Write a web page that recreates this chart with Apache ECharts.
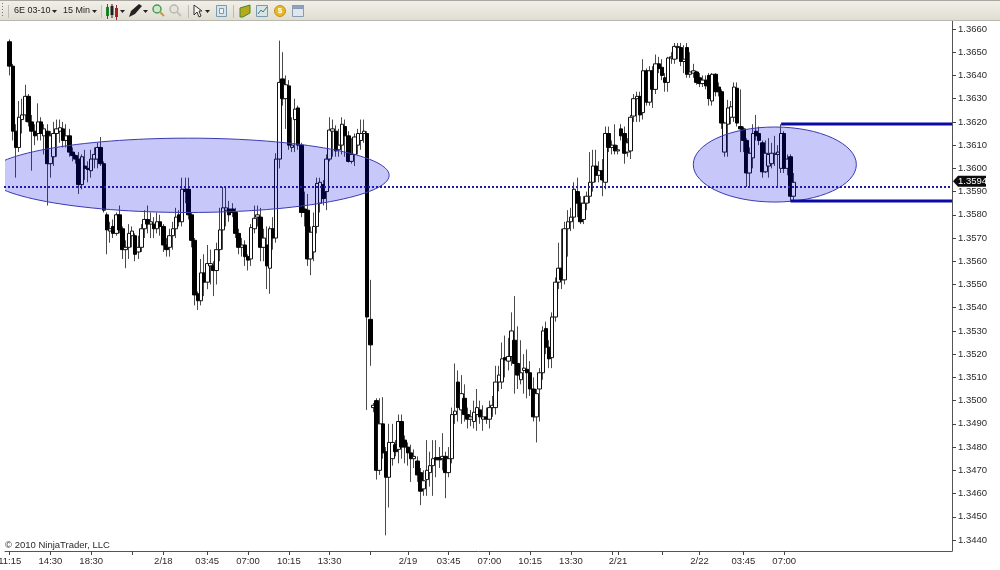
<!DOCTYPE html>
<html><head><meta charset="utf-8">
<style>html,body{margin:0;padding:0;background:#fff}#c{width:1000px;height:570px}</style>
<script src="https://cdn.jsdelivr.net/npm/echarts@6/dist/echarts.min.js"></script>
</head><body><div id="c"></div>
<script>
const opens = [1.36545,1.3644,1.3616,1.3609,1.3621,1.3623,1.3631,1.3620,1.3616,1.3615,
1.3620,1.3614,1.3616,1.3602,1.3605,1.3615,1.3616,1.3617,1.3612,1.3614,
1.3607,1.36055,1.3604,1.3593,1.3601,1.3600,1.3599,1.3604,1.3604,1.3609,
1.3602,1.3580,1.3573,1.3575,1.3572,1.3580,1.3574,1.3565,1.3566,1.3571,
1.3571,1.3564,1.3566,1.3574,1.3578,1.3576,1.3576,1.3574,1.3577,1.3575,
1.3567,1.3566,1.3571,1.3574,1.3580,1.3577,1.3591,1.3591,1.3580,1.3569,
1.3546,1.3543,1.3555,1.3551,1.3558,1.3558,1.3556,1.3565,1.35735,1.3582,
1.35825,1.35825,1.3581,1.3572,1.3566,1.3567,1.3562,1.3561,1.3574,1.3579,
1.3579,1.3566,1.3567,1.3557,1.3574,1.3570,1.3604,1.36385,1.3630,1.36355,
1.3609,1.3621,1.3626,1.3610,1.35825,1.3582,1.3561,1.3564,1.3575,1.3585,
1.3593,1.3590,1.3604,1.3616,1.3616,1.3608,1.3610,1.3618,1.3614,1.3603,
1.3606,1.3610,1.3612,1.3615,1.3615,1.3535,1.3497,1.3500,1.3470,1.3490,
1.3478,1.3467,1.3475,1.3481,1.3479,1.3491,1.3483,1.3480,1.34775,1.3475,
1.3474,1.3469,1.3462,1.3466,1.3469,1.3472,1.34755,1.34755,1.3475,1.3476,
1.3469,1.3475,1.3494,1.3508,1.3496,1.3501,1.3494,1.3492,1.3491,1.3494,
1.3496,1.3492,1.3493,1.3492,1.3497,1.3497,1.3508,1.3508,1.35185,1.3517,
1.3519,1.3526,1.3516,1.3509,1.3513,1.35135,1.3512,1.3505,1.3493,1.3505,
1.3512,1.3531,1.3523,1.35185,1.3536,1.3551,1.3557,1.3552,1.3574,1.3577,
1.3579,1.3590,1.3585,1.3578,1.3585,1.3588,1.3594,1.3601,1.3597,1.3599,
1.3594,1.3615,1.3609,1.3610,1.36075,1.3617,1.3615,1.3607,1.36075,1.36225,
1.3630,1.3631,1.3624,1.3642,1.36285,1.3642,1.3634,1.3645,1.36435,1.3639,
1.3637,1.36475,1.3647,1.3652,1.3652,1.3646,1.3652,1.36405,1.3641,1.36415,
1.3639,1.36365,1.3638,1.3640,1.3629,1.36405,1.3635,1.3633,1.3607,1.3619,
1.3622,1.3622,1.36345,1.3618,1.3617,1.3612,1.3598,1.36045,1.3616,1.3615,
1.3611,1.35985,1.3601,1.3602,1.3606,1.3606,1.3600,1.3615,1.3600,1.3605,
1.3588];
const closes = [1.3644,1.3616,1.3609,1.3622,1.3623,1.3631,1.3620,1.3616,1.3614,1.3620,
1.3615,1.3617,1.3602,1.3614,1.3615,1.3617,1.36175,1.3612,1.3614,1.3607,
1.36055,1.3604,1.3593,1.3605,1.3600,1.35995,1.3604,1.3606,1.3609,1.3602,
1.3582,1.35735,1.3574,1.3572,1.3580,1.35735,1.3565,1.3566,1.3572,1.3573,
1.3563,1.3566,1.3574,1.3578,1.3576,1.3577,1.3574,1.3577,1.3575,1.3567,
1.3565,1.3571,1.3574,1.3579,1.3577,1.3591,1.3590,1.3580,1.3569,1.35455,
1.3543,1.3555,1.3551,1.3559,1.3559,1.3556,1.3565,1.35735,1.3583,1.3583,
1.3580,1.3581,1.3572,1.3566,1.3567,1.3562,1.35605,1.35745,1.35785,1.3580,
1.3566,1.3570,1.3558,1.3574,1.3570,1.3604,1.3637,1.3630,1.3636,1.3610,
1.3610,1.36255,1.3610,1.3581,1.3581,1.3561,1.35725,1.3575,1.35935,1.3594,
1.3587,1.3604,1.36165,1.3617,1.36075,1.3610,1.3619,1.3614,1.3603,1.3606,
1.36135,1.3615,1.3615,1.3616,1.3536,1.3524,1.3498,1.3470,1.3490,1.34775,
1.3467,1.3482,1.3482,1.3478,1.3491,1.3480,1.3480,1.34775,1.3475,1.3476,
1.3468,1.3461,1.34655,1.3470,1.3472,1.3475,1.34745,1.34745,1.3476,1.3469,
1.3475,1.3494,1.34955,1.3497,1.3503,1.3494,1.3492,1.3493,1.3495,1.3497,
1.3493,1.3493,1.3492,1.3497,1.3498,1.3508,1.3511,1.3518,1.35175,1.3519,
1.3530,1.3516,1.3511,1.3512,1.3514,1.3512,1.3505,1.3493,1.3503,1.3512,
1.3530,1.3523,1.3518,1.3536,1.3551,1.3557,1.3552,1.3574,1.3577,1.3579,
1.3591,1.3585,1.3577,1.3585,1.3588,1.3594,1.3601,1.3597,1.3599,1.3595,
1.3615,1.3609,1.3610,1.36075,1.3608,1.3614,1.36065,1.3611,1.3622,1.3630,
1.3631,1.3623,1.3642,1.36285,1.3642,1.3634,1.3645,1.3643,1.3640,1.3637,
1.36475,1.3648,1.36525,1.36525,1.3646,1.3647,1.36405,1.36415,1.3642,1.3637,
1.36365,1.3638,1.36355,1.3630,1.36405,1.3633,1.3633,1.36195,1.36195,1.3626,
1.36265,1.3635,1.36195,1.3617,1.3612,1.3598,1.36065,1.3615,1.3614,1.3612,
1.35985,1.36065,1.3606,1.36065,1.36065,1.3607,1.3615,1.3600,1.3604,1.3588,
1.3594];
const lows = [1.3640,1.3612,1.3596,1.3607,1.3615,1.3620,1.3618,1.3599,1.3610,1.3612,
1.3612,1.3606,1.3584,1.3596,1.3601,1.3605,1.3611,1.3609,1.3609,1.3605,
1.3603,1.3602,1.3589,1.3591,1.3595,1.3594,1.3596,1.3600,1.3600,1.3601,
1.3581,1.3563,1.3568,1.3570,1.3571,1.3572,1.3561,1.3557,1.3561,1.3566,
1.3560,1.3561,1.3564,1.3570,1.3572,1.3570,1.3570,1.3572,1.3571,1.3564,
1.3562,1.3562,1.3565,1.3570,1.3575,1.3575,1.3585,1.3578,1.3566,1.3541,
1.3539,1.3541,1.3545,1.3548,1.3550,1.3545,1.3550,1.3560,1.3565,1.3575,
1.3577,1.3579,1.3570,1.3563,1.3562,1.3558,1.3556,1.3558,1.3572,1.3575,
1.3560,1.3560,1.3548,1.3546,1.3565,1.3568,1.3600,1.3627,1.3617,1.3608,
1.3607,1.3607,1.3608,1.3579,1.3575,1.3558,1.3554,1.3560,1.3572,1.3581,
1.3584,1.3582,1.3603,1.3605,1.3605,1.3605,1.3606,1.3605,1.36025,1.3602,
1.3601,1.3606,1.3608,1.3611,1.3496,1.3515,1.3495,1.3466,1.3468,1.3475,
1.3442,1.3454,1.3472,1.3476,1.3473,1.3475,1.3473,1.3472,1.3465,1.3471,
1.3465,1.3455,1.3459,1.3459,1.3463,1.3459,1.3467,1.3471,1.3470,1.3458,
1.3467,1.3473,1.3490,1.3491,1.3490,1.3491,1.3488,1.3489,1.3488,1.3487,
1.3490,1.3487,1.3490,1.3488,1.3493,1.3494,1.3504,1.3505,1.3510,1.3513,
1.3515,1.3503,1.3505,1.3507,1.3503,1.3501,1.3502,1.3491,1.3482,1.3491,
1.3509,1.3520,1.3514,1.3514,1.3534,1.3548,1.3548,1.3550,1.3562,1.3573,
1.3574,1.3579,1.3576,1.3576,1.3582,1.3585,1.3590,1.3594,1.3594,1.3588,
1.3591,1.3607,1.3606,1.3606,1.3606,1.3612,1.3602,1.3605,1.3604,1.3620,
1.3620,1.3620,1.3621,1.3627,1.3627,1.3626,1.3632,1.3641,1.3638,1.3633,
1.3633,1.3645,1.3645,1.3647,1.3644,1.3641,1.3639,1.3639,1.3639,1.3636,
1.3635,1.3635,1.3634,1.3627,1.3627,1.3631,1.3631,1.3617,1.3605,1.3605,
1.3619,1.3620,1.3618,1.3607,1.3607,1.3592,1.3592,1.3600,1.3612,1.3610,
1.3596,1.3598,1.3596,1.3600,1.3601,1.3592,1.3598,1.3598,1.3597,1.3586,
1.3586];
const highs = [1.36555,1.3645,1.3619,1.3629,1.3630,1.3636,1.3632,1.3623,1.3619,1.3628,
1.3622,1.3619,1.3619,1.3616,1.3620,1.3621,1.3621,1.3620,1.3619,1.3617,
1.3609,1.3606,1.3607,1.3606,1.3608,1.3603,1.3608,1.3609,1.3611,1.36135,
1.3603,1.3581,1.3577,1.3578,1.3581,1.3584,1.3575,1.3569,1.3576,1.3575,
1.3572,1.3571,1.3576,1.3582,1.3584,1.3581,1.3579,1.3581,1.3580,1.3576,
1.3570,1.3574,1.3577,1.3583,1.3582,1.3596,1.3596,1.3596,1.3581,1.3570,
1.3547,1.3561,1.3563,1.3567,1.3565,1.3560,1.3568,1.3583,1.3592,1.3592,
1.3586,1.3585,1.3583,1.3574,1.3570,1.3569,1.3563,1.3576,1.3584,1.3584,
1.3583,1.3574,1.3575,1.3575,1.3579,1.36065,1.3655,1.3650,1.3640,1.3638,
1.3622,1.3630,1.3627,1.3611,1.3590,1.3589,1.3575,1.3581,1.3596,1.3596,
1.3595,1.3606,1.3622,1.3621,1.36185,1.3617,1.3622,1.3621,1.3616,1.3613,
1.3615,1.3617,1.3621,1.3621,1.3616,1.3552,1.3499,1.3501,1.3501,1.35015,
1.3480,1.3490,1.3490,1.3483,1.3494,1.3494,1.3485,1.3482,1.3481,1.3479,
1.3476,1.3471,1.3470,1.3483,1.3478,1.3483,1.3483,1.3480,1.3486,1.3478,
1.3480,1.3497,1.3516,1.3513,1.3511,1.3507,1.3497,1.3496,1.3500,1.3505,
1.3500,1.3498,1.3497,1.3500,1.3502,1.3515,1.3515,1.3525,1.3528,1.3527,
1.3538,1.3545,1.3532,1.3526,1.3520,1.3522,1.3517,1.3510,1.3505,1.3514,
1.3532,1.3534,1.3526,1.3538,1.3553,1.3568,1.3574,1.3577,1.3582,1.3583,
1.3594,1.3596,1.3588,1.3588,1.3590,1.3607,1.3608,1.3608,1.3603,1.3604,
1.3618,1.3618,1.3612,1.3619,1.3610,1.3619,1.3618,1.3613,1.3623,1.3632,
1.3633,1.3633,1.3647,1.3643,1.3644,1.3644,1.3649,1.3648,1.3647,1.3641,
1.3648,1.3650,1.3654,1.3654,1.3654,1.3653,1.3654,1.3650,1.3645,1.3642,
1.3641,1.3640,1.3640,1.3641,1.3641,1.3641,1.3637,1.3634,1.3620,1.36295,
1.3629,1.3637,1.3637,1.3634,1.3618,1.3613,1.3609,1.3619,1.3623,1.3618,
1.3612,1.3612,1.3613,1.3611,1.3614,1.3610,1.3619,1.3616,1.3606,1.3606,
1.3598];
/* category slots: index 0 is empty, first candle sits on slot 1 */
const slotCount = 302;
const tickSlots  = [1,14,27,40,50,64,77,90,103,116,128,141,154,167,180,193,195,209,221,235,248];
const tickLabels = ['11:15','14:30','18:30','','2/18','03:45','07:00','10:15','13:30','','2/19','03:45','07:00','10:15','13:30','','2/21','','2/22','03:45','07:00'];
const yTickValues = [1.3440,1.3450,1.3460,1.3470,1.3480,1.3490,1.3500,1.3510,1.3520,1.3530,1.3540,1.3550,1.3560,1.3570,1.3580,1.3590,1.3600,1.3610,1.3620,1.3630,1.3640,1.3650,1.3660];
/* center slot, right-edge slot, top price, bottom price */
const ellipseA = [58,122,1.3613,1.3581];
const ellipseB = [245,271,1.36178,1.35855];
const levelHigh = [247,1.3619];
const levelLow  = [250,1.3586];
const dottedLevel = 1.3592;
const lastPrice = 1.3594;
const yMin = 1.343526, yMax = 1.366344;

const categories = [];
for (let i = 0; i < slotCount; i++) categories.push('t' + i);
const labelBySlot = {};
tickSlots.forEach((s, i) => { labelBySlot[s] = tickLabels[i]; });
const isTick = (i) => Object.prototype.hasOwnProperty.call(labelBySlot, i);
const blank = [['-','-','-','-']];
const wickData = blank.concat(opens.map((o, i) => [o, closes[i], lows[i], highs[i]]));
const bodyData = blank.concat(opens.map((o, i) => [o, closes[i], Math.min(o, closes[i]), Math.max(o, closes[i])]));

const FONT = '"Liberation Sans", Arial, sans-serif';
const chart = echarts.init(document.getElementById('c'), null, {renderer: 'canvas'});

function ellipseItem(params, api) {
  const c = api.coord([api.value(0), (api.value(2) + api.value(3)) / 2]);
  const r = api.coord([api.value(1), api.value(2)]);
  return {type: 'ellipse', shape: {cx: c[0], cy: c[1], rx: r[0] - c[0], ry: c[1] - r[1]},
    style: {fill: 'rgba(0,0,232,0.22)', stroke: '#3a3ab4', lineWidth: 1}};
}
function levelItem(params, api) {
  const p = api.coord([api.value(0), api.value(1)]);
  const right = params.coordSys.x + params.coordSys.width;
  return {type: 'line', shape: {x1: p[0], y1: Math.round(p[1]), x2: right, y2: Math.round(p[1])},
    style: {stroke: '#0a0aa8', lineWidth: 3}};
}
function dottedItem(params, api) {
  const y = Math.round(api.coord([0, api.value(1)])[1]);
  const cs = params.coordSys;
  return {type: 'line', shape: {x1: cs.x - 1, y1: y, x2: cs.x + cs.width, y2: y},
    style: {stroke: '#1c1ca8', lineWidth: 2, lineDash: [2, 2]}};
}
function tagItem(params, api) {
  const y = api.coord([0, api.value(1)])[1] - 1;
  const x = params.coordSys.x + params.coordSys.width;
  return {type: 'group', children: [
    {type: 'polygon', shape: {points: [[x + 1, y], [x + 6, y - 5.5], [x + 34, y - 5.5], [x + 34, y + 5.5], [x + 6, y + 5.5]]},
      style: {fill: '#0c0c0c'}},
    {type: 'text', style: {text: lastPrice.toFixed(4), x: x + 6, y: y, fill: '#fff',
      font: '9.5px ' + FONT, textAlign: 'left', textVerticalAlign: 'middle'}}
  ]};
}

/* toolbar */
const tb = [];
tb.push({type: 'rect', shape: {x: 0, y: 0, width: 1000, height: 21}, style: {
  fill: new echarts.graphic.LinearGradient(0, 0, 0, 1, [{offset: 0, color: '#f2f0e8'}, {offset: 1, color: '#dfddd2'}])}});
tb.push({type: 'rect', shape: {x: 0, y: 0, width: 1000, height: 1}, style: {fill: '#a8a8a0'}});
tb.push({type: 'rect', shape: {x: 0, y: 20, width: 1000, height: 1}, style: {fill: '#b9b8ae'}});
const tbText = (t, x) => tb.push({type: 'text', style: {text: t, x: x, y: 11, font: '9px ' + FONT, fill: '#222', textVerticalAlign: 'middle'}});
const tbArrow = (x) => tb.push({type: 'polygon', shape: {points: [[x, 10], [x + 5, 10], [x + 2.5, 13]]}, style: {fill: '#222'}});
const tbSep = (x) => tb.push({type: 'rect', shape: {x: x, y: 5, width: 1, height: 13}, style: {fill: '#bdbcb2'}});
const tbRect = (x, y, w, h, fill, stroke) => tb.push({type: 'rect', shape: {x, y, width: w, height: h}, style: {fill, stroke: stroke || null, lineWidth: 1}});
[3, 6, 9, 12, 15].forEach(y => tbRect(2, y, 1, 1, '#777'));
tbSep(8);
tbText('6E 03-10', 14); tbArrow(52);
tbText('15 Min', 63); tbArrow(92);
tbSep(101);
tbRect(106, 7, 3, 9, '#1c8c2c'); tbRect(107, 4, 1, 15, '#1c6c2c');
tbRect(110.5, 6, 3, 9, '#222'); tbRect(111.5, 4, 1, 14, '#222');
tbRect(115, 8, 3, 9, '#b02020'); tbRect(116, 5, 1, 15, '#a02020');
tbArrow(120);
tb.push({type: 'polygon', shape: {points: [[129, 17], [131, 11], [139, 4], [142, 6], [135, 14]]}, style: {fill: '#222'}});
tbArrow(143);
tb.push({type: 'circle', shape: {cx: 157, cy: 9, r: 4}, style: {fill: '#cfe8c8', stroke: '#4a9c5a', lineWidth: 1.5}});
tb.push({type: 'line', shape: {x1: 160, y1: 12, x2: 164, y2: 16}, style: {stroke: '#c89a40', lineWidth: 2}});
tb.push({type: 'circle', shape: {cx: 174, cy: 9, r: 4}, style: {fill: '#e4e4de', stroke: '#b8b8b0', lineWidth: 1.5}});
tb.push({type: 'line', shape: {x1: 177, y1: 12, x2: 181, y2: 16}, style: {stroke: '#c0c0b8', lineWidth: 2}});
tbSep(188);
tb.push({type: 'polygon', shape: {points: [[194, 5], [194, 15], [197, 12], [199, 17], [201, 16], [199, 11], [202, 11]]}, style: {fill: '#f4f4f0', stroke: '#333', lineWidth: 1}});
tbArrow(205);
tbRect(216.5, 5.5, 10, 11, '#d8e4ea', '#7a9ab0'); tbRect(219.5, 8.5, 4, 5, '#eef2f4', '#7a9ab0');
tbSep(233);
tb.push({type: 'polygon', shape: {points: [[240, 8], [250, 5], [250, 13], [243, 17], [240, 17]]}, style: {fill: '#b8a820', stroke: '#3c8c2c', lineWidth: 1}});
tbRect(256.5, 5.5, 11, 11, '#d8e4ea', '#7a9ab0');
tb.push({type: 'polyline', shape: {points: [[258, 14], [261, 10], [263, 12], [267, 7]]}, style: {stroke: '#2c8c4c', fill: null, lineWidth: 1}});
tb.push({type: 'circle', shape: {cx: 280, cy: 11, r: 5.5}, style: {fill: '#e8b820', stroke: '#c8901c', lineWidth: 1}});
tb.push({type: 'text', style: {text: '$', x: 280, y: 11, font: 'bold 8px ' + FONT, fill: '#fff', textAlign: 'center', textVerticalAlign: 'middle'}});
tbRect(292.5, 5.5, 11, 11, '#dfe6ee', '#8a9ab0'); tbRect(292.5, 5.5, 11, 3, '#8aa4c8', '#8a9ab0');

chart.setOption({
  animation: false,
  backgroundColor: '#fff',
  grid: {left: 5, top: 21, width: 947, height: 530, containLabel: false, outerBoundsMode: 'none'},
  xAxis: {
    type: 'category', data: categories, boundaryGap: true,
    axisLine: {lineStyle: {color: '#555', width: 1}, onZero: false},
    axisTick: {show: true, interval: (i) => isTick(i), alignWithLabel: true, length: 4, lineStyle: {color: '#444'}},
    axisLabel: {show: true, interval: (i) => isTick(i) && labelBySlot[i] !== '', margin: 5,
      formatter: (v, i) => labelBySlot[i] || '', color: '#2a2a2a', fontSize: 9.5, fontFamily: 'Liberation Sans'},
    splitLine: {show: false}
  },
  yAxis: {
    type: 'value', position: 'right', min: yMin, max: yMax, scale: true,
    axisLine: {show: true, lineStyle: {color: '#555', width: 1}},
    axisTick: {show: true, length: 4, customValues: yTickValues, lineStyle: {color: '#444'}},
    axisLabel: {show: true, customValues: yTickValues, margin: 6, color: '#2a2a2a', fontSize: 9.5, fontFamily: 'Liberation Sans',
      formatter: (v) => v.toFixed(4)},
    splitLine: {show: false}
  },
  series: [
    {name: 'wicks', type: 'candlestick', data: wickData, barWidth: 1, clip: true, z: 2,
      itemStyle: {color: '#4a4a4a', color0: '#4a4a4a', borderColor: '#4a4a4a', borderColor0: '#4a4a4a', borderWidth: 1}},
    {name: 'bodies', type: 'candlestick', data: bodyData, barWidth: 4, clip: true, z: 3,
      itemStyle: {color: '#ffffff', color0: '#000000', borderColor: '#111111', borderColor0: '#000000', borderWidth: 1}},
    {name: 'zones', type: 'custom', renderItem: ellipseItem, data: [ellipseA, ellipseB], clip: true, z: 4, silent: true, encode: {x: 0, y: 2}},
    {name: 'levels', type: 'custom', renderItem: levelItem, data: [levelHigh, levelLow], clip: true, z: 5, silent: true, encode: {x: 0, y: 1}},
    {name: 'dotted', type: 'custom', renderItem: dottedItem, data: [[1, dottedLevel]], clip: false, z: 5, silent: true, encode: {x: 0, y: 1}},
    {name: 'last', type: 'custom', renderItem: tagItem, data: [[1, lastPrice]], clip: false, z: 6, silent: true, encode: {x: 0, y: 1}}
  ],
  graphic: {elements: tb.map(e => Object.assign({silent: true, z: 100}, e)).concat([
    {type: 'text', silent: true, z: 100, style: {text: '© 2010 NinjaTrader, LLC', x: 5, y: 545.5, font: '9.5px ' + FONT, fill: '#2a2a2a', textVerticalAlign: 'middle'}}
  ])}
});
</script></body></html>
